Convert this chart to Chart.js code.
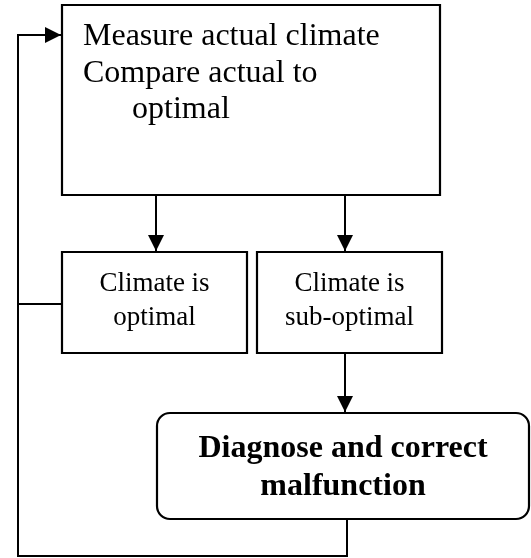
<!DOCTYPE html>
<html>
<head>
<meta charset="utf-8">
<script src="https://cdn.jsdelivr.net/npm/chart.js@4/dist/chart.umd.min.js"></script>
<style>
  html, body { margin: 0; padding: 0; background: #fff; }
  canvas { display: block; }
</style>
</head>
<body>
<canvas id="myFlowChart" width="531" height="558"></canvas>
<script>
// flowchart content
var boxLabels = [
    ['Measure actual climate', 'Compare actual to', 'optimal'],
    ['Climate is', 'optimal'],
    ['Climate is', 'sub-optimal'],
    ['Diagnose and correct', 'malfunction']
];
var boxBold = [false, false, false, true];
var boxRounded = [false, false, false, true];

// box corners [left, top, right, bottom] in diagram units
var boxRects = [
    [62, 5, 440, 195],
    [62, 252, 247, 353],
    [257, 252, 442, 353],
    [157, 413, 529, 519]
];

// connectors, as point lists in diagram units
var linkPoints = [
    [[156, 195], [156, 251]],
    [[345, 195], [345, 251]],
    [[345, 353], [345, 412]],
    [[347, 519], [347, 556], [18, 556], [18, 35], [61, 35]],
    [[62, 304], [18, 304]]
];
var linkArrow = [true, true, true, true, false];

var context = document.getElementById('myFlowChart');

var montaDatasets = function(){
    var sets = [];
    for (var i = 0; i < linkPoints.length; i++) {
        sets.push({
            label: 'link' + i,
            data: linkPoints[i].map(function(p){ return {x: p[0], y: p[1]}; }),
            showLine: true,
            borderColor: '#000',
            borderWidth: 2,
            pointRadius: 0,
            tension: 0,
            clip: false
        });
    }
    return sets;
};

var desenhaCaixas = {
    id: 'desenhaCaixas',
    afterDatasetsDraw: function(chart){
        var ctx = chart.ctx;
        var sx = chart.scales.x, sy = chart.scales.y;
        ctx.save();
        ctx.strokeStyle = '#000';
        ctx.fillStyle = '#000';

        // arrow heads
        for (var i = 0; i < linkPoints.length; i++) {
            if (!linkArrow[i]) continue;
            var pts = linkPoints[i];
            var a = pts[pts.length - 2], b = pts[pts.length - 1];
            var bx = sx.getPixelForValue(b[0]), by = sy.getPixelForValue(b[1]);
            var ax = sx.getPixelForValue(a[0]), ay = sy.getPixelForValue(a[1]);
            var ang = Math.atan2(by - ay, bx - ax);
            var len = 16, half = 8;
            ctx.beginPath();
            ctx.moveTo(bx, by);
            ctx.lineTo(bx - len * Math.cos(ang) - half * Math.sin(ang), by - len * Math.sin(ang) + half * Math.cos(ang));
            ctx.lineTo(bx - len * Math.cos(ang) + half * Math.sin(ang), by - len * Math.sin(ang) - half * Math.cos(ang));
            ctx.closePath();
            ctx.fill();
        }

        // boxes and texts
        for (var j = 0; j < boxRects.length; j++) {
            var r = boxRects[j];
            var x0 = sx.getPixelForValue(r[0]), y0 = sy.getPixelForValue(r[1]);
            var x1 = sx.getPixelForValue(r[2]), y1 = sy.getPixelForValue(r[3]);
            ctx.lineWidth = 2.2;
            ctx.beginPath();
            if (boxRounded[j]) {
                ctx.roundRect(x0, y0, x1 - x0, y1 - y0, 13);
            } else {
                ctx.rect(x0, y0, x1 - x0, y1 - y0);
            }
            ctx.fillStyle = '#fff';
            ctx.fill();
            ctx.stroke();
            ctx.fillStyle = '#000';
            ctx.textBaseline = 'alphabetic';

            var linhas = boxLabels[j];
            if (j === 0) {
                // left aligned text, last line indented
                ctx.font = '32px "Liberation Serif", "Times New Roman", serif';
                ctx.textAlign = 'left';
                ctx.fillText(linhas[0], x0 + 21, y0 + 40);
                ctx.fillText(linhas[1], x0 + 21, y0 + 77);
                ctx.fillText(linhas[2], x0 + 70, y0 + 113);
            } else {
                var bold = boxBold[j];
                var tam = bold ? 32 : 27;
                var passo = bold ? 38 : 34;
                ctx.font = (bold ? 'bold ' : '') + tam + 'px "Liberation Serif", "Times New Roman", serif';
                ctx.textAlign = 'center';
                var cx = (x0 + x1) / 2;
                var base = bold ? y0 + 44 : y0 + 39;
                for (var k = 0; k < linhas.length; k++) {
                    ctx.fillText(linhas[k], cx, base + k * passo);
                }
            }
        }
        ctx.restore();
    }
};

var grafico = new Chart(context, {
    type: 'scatter',
    data: { datasets: montaDatasets() },
    options: {
        responsive: false,
        animation: false,
        layout: { padding: 0 },
        plugins: {
            legend: { display: false },
            tooltip: { enabled: false },
            title: { display: false }
        },
        scales: {
            x: { type: 'linear', min: 0, max: 531, display: false },
            y: { type: 'linear', min: 0, max: 558, reverse: true, display: false }
        }
    },
    plugins: [desenhaCaixas]
});
</script>
</body>
</html>
